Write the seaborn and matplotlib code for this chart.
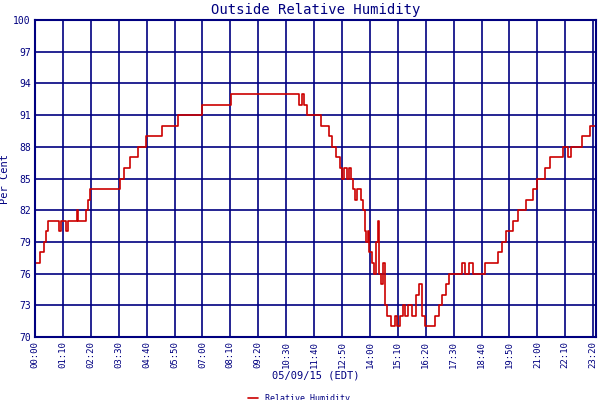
import matplotlib
matplotlib.use("Agg")
import matplotlib.pyplot as plt
import seaborn as sns
import pandas as pd

minutes = [0,12,22,28,32,60,65,78,82,105,108,118,128,132,138,212,222,238,258,278,318,358,418,492,
           662,670,675,682,692,718,738,745,755,765,770,775,782,788,792,798,802,808,818,822,828,830,835,838,
           845,850,855,860,862,868,872,878,882,892,902,908,915,922,928,935,945,955,962,970,978,1002,1012,
           1022,1032,1038,1072,1078,1088,1098,1122,1128,1162,1172,1182,1198,1212,1232,1248,1258,1278,1292,
           1325,1338,1345,1372,1392,1405]
humidity = [77,78,79,80,81,80,81,80,81,82,81,81,82,83,84,85,86,87,88,89,90,91,92,93,
            92,93,92,91,91,90,89,88,87,86,85,86,85,86,85,84,83,84,83,82,80,79,80,78,
            77,76,79,81,76,75,77,73,72,71,72,71,72,73,72,73,72,74,75,72,71,72,73,
            74,75,76,77,76,77,76,76,77,78,79,80,81,82,83,84,85,86,87,
            88,87,88,89,90,90]
tick_minutes = list(range(0, 1401, 70))
tick_labels = ["00:00","01:10","02:20","03:30","04:40","05:50","07:00","08:10","09:20","10:30",
               "11:40","12:50","14:00","15:10","16:20","17:30","18:40","19:50","21:00","22:10",
               "23:20"]
y_ticks = list(range(70, 101, 3))

navy = "#000080"
red = "#cc0000"
sns.set_style("white")
plt.rcParams["font.family"] = ["DejaVu Sans Mono"]

df = pd.DataFrame({"t": minutes, "h": humidity})
fig = plt.figure(figsize=(6, 4), dpi=100)
ax = fig.add_axes([35/600, 63/400, 561/600, 317/400])
sns.lineplot(data=df, x="t", y="h", ax=ax, color=red, linewidth=1.2,
             drawstyle="steps-post", label="Relative Humidity")
ax.set_xlim(0, 1407)
ax.set_ylim(70, 100)
ax.set_xticks(tick_minutes)
ax.set_xticklabels(tick_labels, rotation=90, fontsize=6.5, color=navy)
ax.set_yticks(y_ticks)
ax.set_yticklabels([str(v) for v in y_ticks], fontsize=7, color=navy)
ax.grid(True, color=navy, linewidth=1.2)
for s in ax.spines.values():
    s.set_color(navy)
    s.set_linewidth(1.5)
ax.tick_params(length=0, pad=3)
ax.set_title("Outside Relative Humidity", color=navy, fontsize=10, pad=4)
ax.set_ylabel("Per Cent", color=navy, fontsize=7.5, labelpad=2)
ax.set_xlabel("05/09/15 (EDT)", color=navy, fontsize=7.5, labelpad=2)
ax.legend(loc="upper center", bbox_to_anchor=(0.47, -0.165), frameon=False,
          fontsize=6, handlelength=1.2, labelcolor=navy, borderpad=0.1)
fig.savefig("out.png", dpi=100)
